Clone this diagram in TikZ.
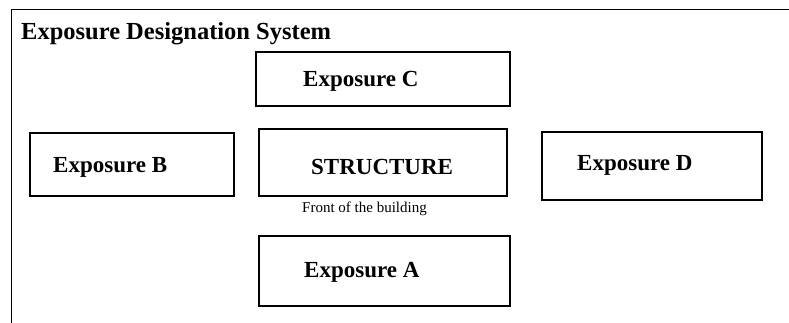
\documentclass[tikz,border=0pt]{standalone}
\usepackage{fontspec}
\setmainfont{Liberation Serif}
\begin{document}
\begin{tikzpicture}[x=1pt,y=-1pt,
  expbox/.style={draw,line width=2pt,inner sep=0pt},
  lbl/.style={anchor=base west,inner sep=0pt,font=\fontsize{23}{26}\selectfont\bfseries},
  note/.style={anchor=base west,inner sep=0pt,font=\fontsize{15}{17}\selectfont}]
\useasboundingbox (0,0) rectangle (789,323);
% frame
\coordinate (ftr) at (789,10);
\coordinate (ftl) at (11,10);
\coordinate (fbl) at (11,323);
\draw[line width=1pt] (ftr) -- (ftl) -- (fbl);
\node[anchor=base west,inner sep=0pt,font=\fontsize{24.5}{28}\selectfont\bfseries] (title) at (21,40) {Exposure Designation System};
% boxes
\node[expbox,minimum width=254pt,minimum height=54pt] (boxC) at (383,79) {};
\node[expbox,minimum width=204pt,minimum height=63pt] (boxB) at (132,164.5) {};
\node[expbox,minimum width=248pt,minimum height=66pt] (boxS) at (383,162.5) {};
\node[expbox,minimum width=220pt,minimum height=68pt] (boxD) at (652,166) {};
\node[expbox,minimum width=251pt,minimum height=70pt] (boxA) at (384.5,271) {};
% labels
\node[lbl] (tC) at (303,87) {Exposure C};
\node[lbl] (tB) at (53,172) {Exposure B};
\node[lbl] (tS) at (311,175) {STRUCTURE};
\node[lbl] (tD) at (577,171) {Exposure D};
\node[lbl] (tA) at (304,277) {Exposure A};
\node[note] (front) at (302,212) {Front of the building};
\end{tikzpicture}
\end{document}
